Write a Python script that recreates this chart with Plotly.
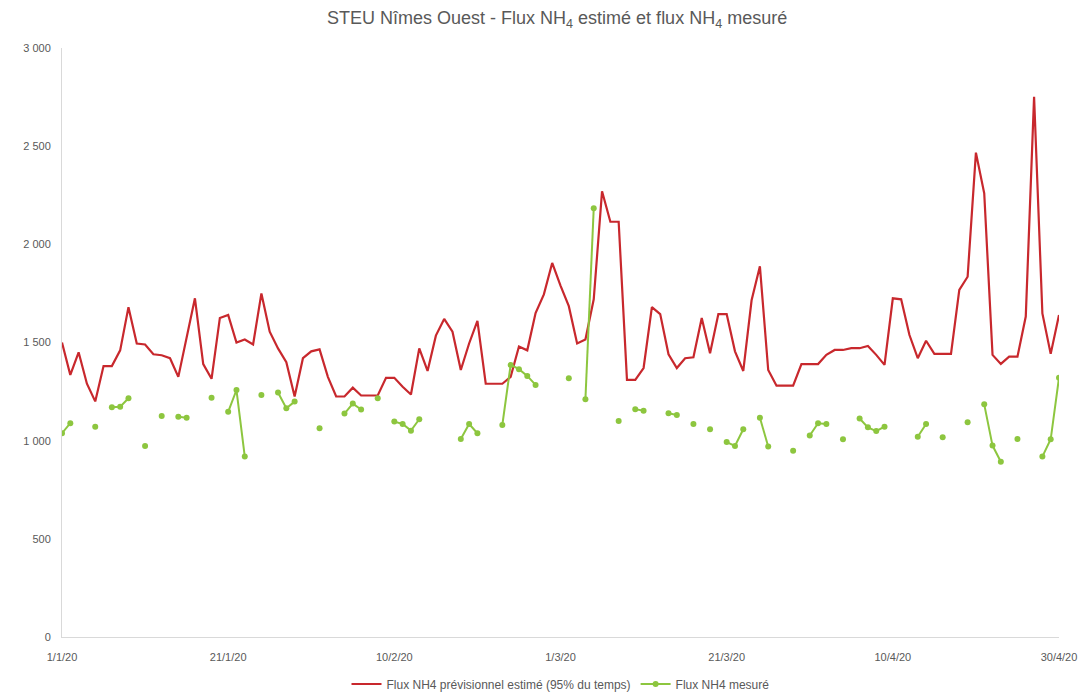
import pandas as pd
import plotly.graph_objects as go

dates = pd.date_range("2020-01-01", "2020-04-30", freq="D")

flux_estime = [
    1500, 1335, 1450, 1290, 1200, 1380, 1380, 1460, 1680, 1495,
    1490, 1440, 1435, 1420, 1325, 1530, 1725, 1390, 1315, 1625,
    1640, 1500, 1515, 1490, 1750, 1555, 1470, 1400, 1225, 1420,
    1455, 1465, 1325, 1225, 1225, 1270, 1230, 1230, 1230, 1320,
    1320, 1275, 1235, 1470, 1355, 1535, 1620, 1555, 1360, 1495,
    1610, 1290, 1290, 1290, 1325, 1480, 1460, 1650, 1745, 1905,
    1790, 1685, 1495, 1515, 1720, 2270, 2115, 2115, 1310, 1310,
    1370, 1680, 1645, 1440, 1370, 1420, 1425, 1625, 1445, 1645,
    1645, 1455, 1355, 1715, 1888, 1360, 1280, 1280, 1280, 1390,
    1390, 1390, 1437, 1462, 1462, 1471, 1471, 1482, 1437, 1386,
    1725, 1720, 1538, 1420, 1509, 1442, 1442, 1442, 1768, 1835,
    2467, 2260, 1437, 1391, 1428, 1428, 1632, 2752, 1648, 1442,
    1640,
]

N = None
flux_mesure = [
    1038, 1089, N, N, 1071, N, 1170, 1173, 1216, N,
    973, N, 1126, N, 1122, 1117, N, N, 1219, N,
    1147, 1258, 919, N, 1233, N, 1245, 1165, 1199, N,
    N, 1063, N, N, 1138, 1189, 1159, N, 1216, N,
    1097, 1085, 1051, 1109, N, N, N, N, 1009, 1085,
    1038, N, N, 1080, 1386, 1364, 1330, 1284, N, N,
    N, 1318, N, 1211, 2184, N, N, 1100, N, 1160,
    1153, N, N, 1140, 1131, N, 1085, N, 1058, N,
    993, 973, 1058, N, 1117, 970, N, N, 949, N,
    1026, 1089, 1085, N, 1007, N, 1113, 1068, 1049, 1071,
    N, N, N, 1020, 1085, N, 1017, N, N, 1094,
    N, 1185, 975, 893, N, 1009, N, N, 919, 1007,
    1321,
]

tick_dates = pd.date_range("2020-01-01", "2020-04-30", freq="20D")
tick_labels = ["1/1/20", "21/1/20", "10/2/20", "1/3/20", "21/3/20", "10/4/20", "30/4/20"]

red = "#C8282D"
green = "#8DC63F"
grey = "#595959"

fig = go.Figure()
fig.add_trace(go.Scatter(
    x=dates, y=flux_estime, mode="lines",
    name="Flux NH4 prévisionnel estimé (95% du temps)",
    line=dict(color=red, width=2.2),
))
fig.add_trace(go.Scatter(
    x=dates, y=flux_mesure, mode="lines+markers",
    name="Flux NH4 mesuré",
    line=dict(color=green, width=2),
    marker=dict(color=green, size=6),
))

fig.update_layout(
    width=1086, height=694,
    margin=dict(l=62, r=27, t=48, b=57),
    paper_bgcolor="white", plot_bgcolor="white",
    separators=". ",
    font=dict(family="Liberation Sans, Arial, sans-serif", color=grey, size=11),
    title=dict(
        text="STEU Nîmes Ouest - Flux NH<sub>4</sub> estimé et flux NH<sub>4</sub> mesuré",
        x=0.513, xanchor="center", y=0.974, yanchor="middle",
        font=dict(size=18, color=grey),
    ),
    showlegend=True,
    legend=dict(
        orientation="h", x=0.5, xanchor="center",
        yref="container", y=0.0144, yanchor="middle",
        font=dict(size=12, color=grey), bgcolor="rgba(0,0,0,0)",
        itemwidth=30,
    ),
    xaxis=dict(
        type="date", automargin=False,
        range=[dates[0], dates[-1]],
        tickvals=list(tick_dates), ticktext=tick_labels,
        showgrid=False, showline=True, linecolor="#D9D9D9", linewidth=1,
        zeroline=False, ticks="", tickfont=dict(size=11, color=grey),
        ticklabelstandoff=10,
    ),
    yaxis=dict(
        range=[0, 3000], dtick=500, tickformat=",d", automargin=False,
        showgrid=False, showline=True, linecolor="#D9D9D9", linewidth=1,
        zeroline=False, ticks="", tickfont=dict(size=11, color=grey),
        ticklabelstandoff=8,
    ),
)

fig.write_html("out.html")
